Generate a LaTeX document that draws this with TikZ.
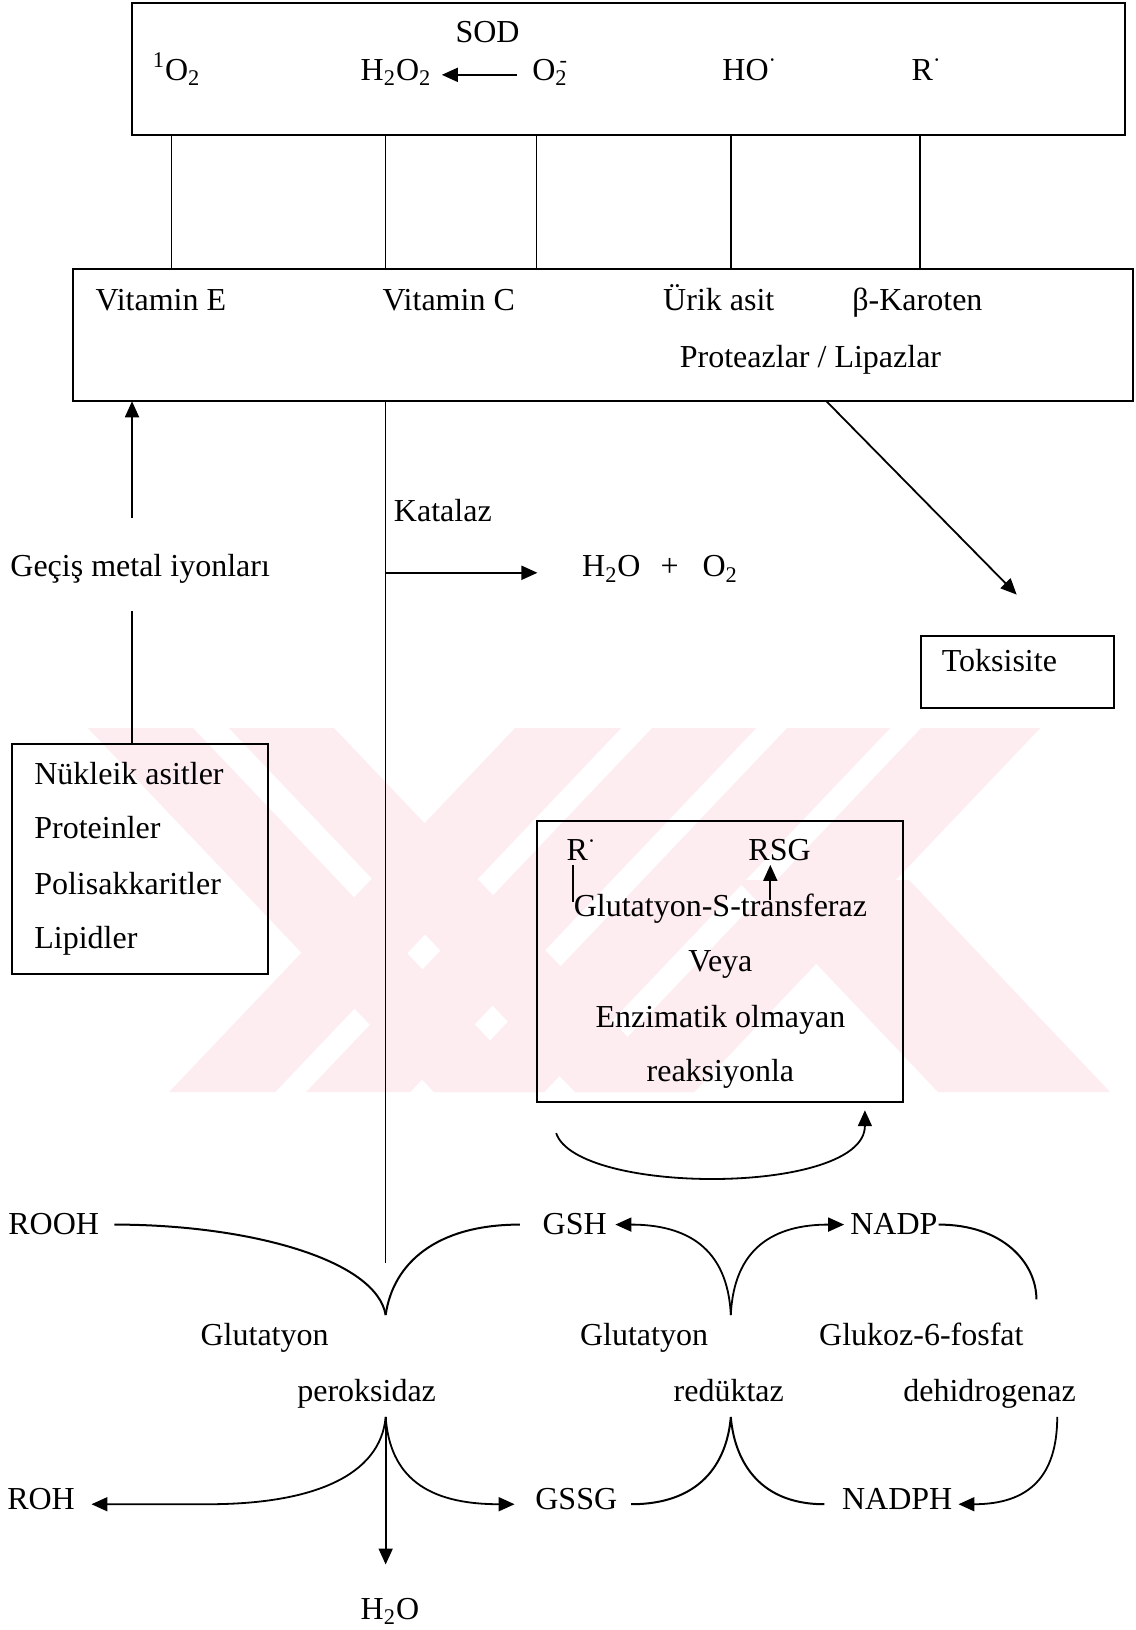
\documentclass[tikz,border=0pt]{standalone}
\usepackage{fontspec}
\setmainfont{Liberation Serif}
\usetikzlibrary{arrows.meta,fit}
\definecolor{wm}{RGB}{253,236,240}
\begin{document}
\begin{tikzpicture}[x=0.5197pt,y=-0.5197pt,
  every node/.style={inner sep=0pt, outer sep=0pt},
  txt/.style={font=\fontsize{16}{19}\selectfont, anchor=base west},
  ctxt/.style={font=\fontsize{16}{19}\selectfont, anchor=base},
  boxx/.style={draw, line width=1pt, inner sep=0pt},
  ln/.style={line width=0.8pt},
  lnc/.style={line width=1pt},
  arr/.style={line width=0.9pt, -{Triangle[length=8pt,width=7pt]}},
]
\fill[white] (0,0) rectangle (1092,1568);
\useasboundingbox (0,0) rectangle (1092,1568);

% watermark
\begin{scope}[scale=0.96209]
\clip (0,728) rectangle (1135,1092);
\fill[wm] (515,728)--(621,728)--(275,1092)--(169,1092)--cycle;
\fill[wm] (652,728)--(756,728)--(410,1092)--(306,1092)--cycle;
\fill[wm] (787,728)--(890,728)--(544,1092)--(441,1092)--cycle;
\fill[wm] (921,728)--(1040,728)--(694,1092)--(575,1092)--cycle;
\fill[wm] (88,728)--(193,728)--(539,1092)--(434,1092)--cycle;
\fill[wm] (229,728)--(334,728)--(680,1092)--(575,1092)--cycle;
\fill[wm] (737,880)--(909,880)--(1110,1092)--(938,1092)--cycle;
\end{scope}

% top box
\node[boxx, fit={(127,3) (1082,130)}] (box1) {};
\node[txt] (singlet) at (147,77) {\textsuperscript{1}O\textsubscript{2}};
\node[ctxt] (sod) at (469,41) {SOD};
\node[txt] (h2o2) at (347,77) {H\textsubscript{2}O\textsubscript{2}};
\node[txt] (superox) at (512,77) {O\textsubscript{2}\hskip-4pt\textsuperscript{-}};
\node[txt] (hydroxyl) at (695,77) {HO\textsuperscript{·}};
\node[txt] (rrad) at (877,77) {R\textsuperscript{·}};
\coordinate (sodA) at (497,72);
\coordinate (sodB) at (425,72);
\draw[arr] (sodA) -- (sodB);

% second box
\node[boxx, fit={(70,259) (1090,386)}] (box2) {};
\node[txt] (vitE) at (92,299) {Vitamin E};
\node[txt] (vitC) at (368,299) {Vitamin C};
\node[txt] (urik) at (638,299) {Ürik asit};
\node[txt] (karot) at (820,299) {β-Karoten};
\node[txt] (prot) at (654,354) {Proteazlar / Lipazlar};

\coordinate (xa) at (165,0);
\coordinate (xb) at (371,0);
\coordinate (xc) at (516,0);
\coordinate (xd) at (703,0);
\coordinate (xe) at (885,0);
\foreach \n in {xa,xb,xc,xd,xe} \draw[ln] (box1.south -| \n) -- (box2.north -| \n);

% left column
\node[boxx, fit={(12,716) (258,937)}] (box3) {};
\node[txt] (nuk) at (33,755) {Nükleik asitler};
\node[txt] (prt) at (33,807) {Proteinler};
\node[txt] (pol) at (33,860) {Polisakkaritler};
\node[txt] (lip) at (33,912) {Lipidler};
\node[txt] (gecis) at (10,555) {Geçiş metal iyonları};
\coordinate (gU) at (127,498);
\coordinate (gD) at (127,588);
\draw[arr] (gU) -- (box2.south -| gU);
\draw[ln] (gD) -- (box3.north -| gD);

% catalase
\coordinate (vc) at (371,1215);
\draw[ln] (box2.south -| vc) -- (vc);
\node[txt] (katalaz) at (379,502) {Katalaz};
\coordinate (k1) at (371,551);
\coordinate (k2) at (517,551);
\draw[arr] (k1) -- (k2);
\node[txt] (water) at (560,555) {H\textsubscript{2}O\hskip 10pt+\hskip 12pt O\textsubscript{2}};

% toxicity
\coordinate (d1) at (795,0);
\coordinate (d2) at (978,572);
\draw[arr] (box2.south -| d1) -- (d2);
\node[boxx, fit={(886,612) (1072,681)}] (box4) {};
\node[txt] (toks) at (906,646) {Toksisite};

% GST box
\node[boxx, fit={(517,790) (869,1060)}] (box5) {};
\node[txt] (rr2) at (545,828) {R\textsuperscript{·}};
\node[txt] (rsg) at (720,828) {RSG};
\node[ctxt] (gst) at (693,882) {Glutatyon-S-transferaz};
\node[ctxt] (veya) at (693,935) {Veya};
\node[ctxt] (enz) at (693,988) {Enzimatik olmayan};
\node[ctxt] (reak) at (693,1040) {reaksiyonla};
\coordinate (r1) at (551,832);
\coordinate (r2) at (551,868);
\draw[ln] (r1) -- (r2);
\coordinate (s1) at (741,866);
\coordinate (s2) at (741,832);
\draw[arr] (s1) -- (s2);
\coordinate (u1) at (535,1090);
\coordinate (u2) at (832,1068);
\draw[arr] (u1) .. controls (555,1150) and (832,1150) .. (u2);

% bottom labels
\node[txt] (rooh) at (8,1188) {ROOH};
\node[txt] (gsh) at (522,1188) {GSH};
\node[txt] (nadp) at (818,1188) {NADP};
\node[txt] (glu1) at (193,1294) {Glutatyon};
\node[txt] (glu2) at (558,1294) {Glutatyon};
\node[txt] (g6p) at (788,1294) {Glukoz-6-fosfat};
\node[txt] (perok) at (286,1348) {peroksidaz};
\node[txt] (reduk) at (648,1348) {redüktaz};
\node[txt] (dehid) at (869,1348) {dehidrogenaz};
\node[txt] (roh) at (7,1452) {ROH};
\node[txt] (gssg) at (515,1452) {GSSG};
\node[txt] (nadph) at (810,1452) {NADPH};
\node[txt] (h2o) at (347,1558) {H\textsubscript{2}O};

% bottom connectors
\coordinate (cuspA) at (371,1265);
\coordinate (cuspB) at (703,1265);
\coordinate (ra) at (110,1178);
\coordinate (gb) at (500,1178);
\coordinate (gshT) at (592,1178);
\coordinate (nadpT) at (812,1178);
\coordinate (nadpR) at (903,1178);
\coordinate (g6pT) at (997,1250);
\draw[lnc] (ra) .. controls (240,1178) and (362,1212) .. (cuspA);
\draw[lnc] (gb) .. controls (420,1178) and (378,1215) .. (cuspA);
\draw[arr] (cuspB) .. controls (700,1200) and (660,1178) .. (gshT);
\draw[arr] (cuspB) .. controls (706,1200) and (745,1178) .. (nadpT);
\draw[lnc] (nadpR) .. controls (965,1178) and (997,1215) .. (g6pT);

\coordinate (px) at (371,1363);
\coordinate (rohT) at (88,1447);
\coordinate (gssgT) at (495,1447);
\coordinate (h2oT) at (371,1505);
\draw[arr] (px) .. controls (366,1420) and (300,1447) .. (200,1447) -- (rohT);
\draw[arr] (px) .. controls (375,1420) and (410,1447) .. (gssgT);
\draw[arr] (px) -- (h2oT);

\coordinate (gssgR) at (607,1447);
\coordinate (grc) at (703,1363);
\coordinate (nadphL) at (793,1447);
\draw[lnc] (gssgR) .. controls (680,1447) and (700,1400) .. (grc) .. controls (706,1400) and (726,1447) .. (nadphL);
\coordinate (dh) at (1017,1363);
\coordinate (nadphT) at (922,1447);
\draw[arr] (dh) .. controls (1017,1420) and (990,1447) .. (nadphT);
\end{tikzpicture}
\end{document}
